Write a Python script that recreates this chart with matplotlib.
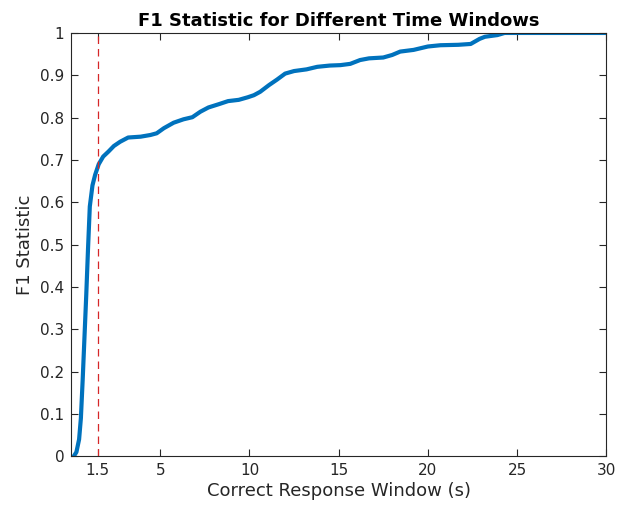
import numpy as np
import matplotlib
matplotlib.use("Agg")
import matplotlib.pyplot as plt

# F1 statistic vs correct response window
WINDOW_S = [0.15, 0.3, 0.45, 0.55, 0.65, 0.75, 0.85, 0.95, 1.05, 1.2, 1.35,
            1.55, 1.8, 2.1, 2.4, 2.75, 3.2, 3.9, 4.45, 4.8, 5.2, 5.75, 6.3,
            6.8, 7.25, 7.7, 8.3, 8.8, 9.4, 9.9, 10.25, 10.6, 11.1, 11.55,
            12.0, 12.5, 13.2, 13.8, 14.5, 15.1, 15.65, 16.2, 16.7, 17.5,
            18.0, 18.45, 19.2, 20.0, 20.7, 21.7, 22.4, 22.9, 23.2, 23.9,
            24.3, 30.0]
F1 = [0.0, 0.01, 0.04, 0.09, 0.18, 0.28, 0.38, 0.49, 0.59, 0.64, 0.665,
      0.69, 0.708, 0.72, 0.733, 0.743, 0.753, 0.755, 0.759, 0.763, 0.775,
      0.788, 0.796, 0.801, 0.814, 0.824, 0.832, 0.839, 0.842, 0.848, 0.853,
      0.861, 0.877, 0.890, 0.904, 0.910, 0.914, 0.920, 0.923, 0.924, 0.927,
      0.936, 0.940, 0.942, 0.948, 0.956, 0.960, 0.968, 0.971, 0.972, 0.974,
      0.986, 0.991, 0.995, 1.0, 1.0]

CHOSEN_WINDOW = 1.5
X_TICKS = [1.5, 5, 10, 15, 20, 25, 30]
X_TICKLABELS = ["1.5", "5", "10", "15", "20", "25", "30"]
Y_TICKS = np.round(np.arange(0, 1.01, 0.1), 1)
Y_TICKLABELS = ["0"] + [f"{v:.1f}" for v in Y_TICKS[1:-1]] + ["1"]

plt.rcParams["font.family"] = "DejaVu Sans"
AX_COLOR = "#262626"

fig = plt.figure(figsize=(6.18, 5.07), dpi=100)
ax = fig.add_axes([0.115, 0.1, 0.866, 0.835])

ax.plot(WINDOW_S, F1, color="#0072BD", lw=3.0, solid_capstyle="round")
ax.axvline(CHOSEN_WINDOW, color="#D62728", lw=0.9, ls=(0, (6, 4)))

ax.set_xlim(0, 30)
ax.set_ylim(0, 1)
ax.set_xticks(X_TICKS)
ax.set_xticklabels(X_TICKLABELS)
ax.set_yticks(Y_TICKS)
ax.set_yticklabels(Y_TICKLABELS)
ax.tick_params(direction="in", top=True, right=True, length=5,
               width=0.8, colors=AX_COLOR, labelsize=11, pad=5)
for sp in ax.spines.values():
    sp.set_color(AX_COLOR)
    sp.set_linewidth(0.8)

ax.set_xlabel("Correct Response Window (s)", fontsize=13, color=AX_COLOR,
              labelpad=3)
ax.set_ylabel("F1 Statistic", fontsize=13, color=AX_COLOR)
ax.set_title("F1 Statistic for Different Time Windows", fontsize=13,
             fontweight="bold", color="black", pad=5)

fig.savefig("out.png", dpi=100)
